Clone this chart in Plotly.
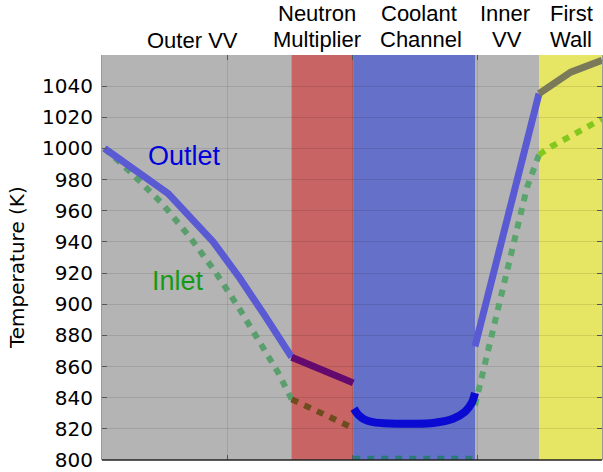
import plotly.graph_objects as go

# ---------------- data ----------------
region_edges = [0.0, 1.517, 2.01, 2.984, 3.496, 4.0]
region_names = ["Outer VV", "Neutron<br>Multiplier", "Coolant<br>Channel", "Inner<br>VV", "First<br>Wall"]

outlet_outer_x = [0.02, 0.53, 0.89, 1.1, 1.3, 1.517]
outlet_outer_y = [1000, 971, 940, 917, 893, 866]
outlet_mult_x = [1.517, 2.01]
outlet_mult_y = [866, 849.5]
outlet_cool_x = [2.016, 2.05, 2.1, 2.168, 2.3, 2.5, 2.65, 2.808, 2.904, 2.96, 2.984]
outlet_cool_y = [833, 829, 826, 824.3, 823.4, 823.3, 823.8, 826.5, 831, 837, 843]
outlet_inner_x = [2.984, 3.496]
outlet_inner_y = [873, 1035.2]
outlet_wall_x = [3.496, 3.75, 4.0]
outlet_wall_y = [1035.2, 1049, 1056.6]

inlet_outer_x = [0.02, 0.22, 0.48, 0.7, 0.91, 1.1, 1.41, 1.517]
inlet_outer_y = [1000, 985.4, 964.8, 943.4, 920.4, 897, 856, 839]
inlet_mult_x = [1.517, 2.01]
inlet_mult_y = [839, 820.5]
inlet_cool_x = [2.01, 2.984]
inlet_cool_y = [800.8, 800.8]
inlet_inner_x = [2.984, 3.4, 3.496]
inlet_inner_y = [835, 975, 996]
inlet_wall_x = [3.496, 3.6, 3.76, 4.0]
inlet_wall_y = [996, 1001.5, 1008.4, 1019]

y_ticks = list(range(800, 1041, 20))

# ---------------- styles ----------------
region_fill = ["#b4b4b4", "#c86464", "#6570c8", "#b4b4b4", "#e6e664"]

fig = go.Figure()

def seg(x, y, color, width, dash=None, shape="linear"):
    fig.add_trace(go.Scatter(x=x, y=y, mode="lines", showlegend=False, hoverinfo="skip",
                             line=dict(color=color, width=width, dash=dash, shape=shape,
                                       smoothing=0.8)))

DOT = "7px,7px"
seg(inlet_outer_x, inlet_outer_y, "#5a9e6e", 6, DOT)
seg(inlet_mult_x, inlet_mult_y, "#6e4c1e", 6, DOT)
seg(inlet_cool_x, inlet_cool_y, "#2a7a7a", 6, DOT)
seg(inlet_inner_x, inlet_inner_y, "#5aa46e", 6, DOT)
seg(inlet_wall_x, inlet_wall_y, "#84c81e", 6, DOT)

seg(outlet_outer_x, outlet_outer_y, "#5a5ad2", 7)
seg(outlet_mult_x, outlet_mult_y, "#640a6e", 7)
seg(outlet_cool_x, outlet_cool_y, "#0a0ad2", 8, shape="spline")
seg(outlet_inner_x, outlet_inner_y, "#5a5ad2", 7)
seg(outlet_wall_x, outlet_wall_y, "#7a7a5a", 7)

shapes = []
for i in range(len(region_names)):
    shapes.append(dict(type="rect", xref="x", yref="paper", x0=region_edges[i], x1=region_edges[i + 1],
                       y0=0, y1=1, fillcolor=region_fill[i], line=dict(width=0), layer="below"))
# bottom axis line
shapes.append(dict(type="line", xref="paper", yref="paper", x0=0, x1=1, y0=0, y1=0,
                   line=dict(color="#222222", width=1.5)))

W, H = 603, 472
L, R, T, B = 102, 1, 55, 12
pw, ph = W - L - R, H - T - B

def px(xp):
    return (xp - L) / pw

def py(yp):
    return (H - B - yp) / ph

ann = []
label_font = dict(family="Liberation Sans, Arial", size=22, color="black")
top_labels = [("Outer VV", 192, 40), ("Neutron", 317, 13), ("Multiplier", 317, 39),
              ("Coolant", 419, 13), ("Channel", 421, 39), ("Inner", 505, 13), ("VV", 507, 39),
              ("First", 571, 13), ("Wall", 571, 39)]
for t, x, y in top_labels:
    ann.append(dict(text=t, xref="paper", yref="paper", x=px(x), y=py(y), xanchor="center",
                    yanchor="middle", showarrow=False, font=label_font))
ann.append(dict(text="Outlet", xref="paper", yref="paper", x=px(184), y=py(156), xanchor="center",
                yanchor="middle", showarrow=False,
                font=dict(family="Liberation Sans, Arial", size=27, color="#0000dd")))
ann.append(dict(text="Inlet", xref="paper", yref="paper", x=px(178), y=py(281), xanchor="center",
                yanchor="middle", showarrow=False,
                font=dict(family="Liberation Sans, Arial", size=27, color="#169a16")))
ann.append(dict(text="Temperature (K)", xref="paper", yref="paper", x=px(17), y=py(268),
                xanchor="center", yanchor="middle", textangle=-90, showarrow=False,
                font=dict(family="DejaVu Sans", size=20, color="black")))

fig.update_layout(
    width=W, height=H,
    margin=dict(l=L, r=R, t=T, b=B, pad=0),
    paper_bgcolor="white", plot_bgcolor="#b4b4b4",
    shapes=shapes, annotations=ann,
    xaxis=dict(range=[0, 4], tickvals=[0, 1, 2, 3, 4], showticklabels=False, ticks="inside",
               ticklen=5, tickcolor="#555555", showgrid=True, gridcolor="rgba(0,0,0,0.1)",
               gridwidth=1, zeroline=False, showline=False, mirror="ticks"),
    yaxis=dict(range=[800, 1060], tickvals=y_ticks, ticks="inside", ticklen=5, tickcolor="#555555",
               showgrid=True, gridcolor="rgba(0,0,0,0.1)", gridwidth=1, zeroline=False,
               showline=True, linecolor="#999999", linewidth=1, mirror="ticks",
               tickfont=dict(family="DejaVu Sans", size=20, color="black"), ticklabelstandoff=4),
)

fig.write_html("out.html", config={"displayModeBar": False},
               post_script="document.body.style.margin='0';document.body.style.overflow='hidden';")
